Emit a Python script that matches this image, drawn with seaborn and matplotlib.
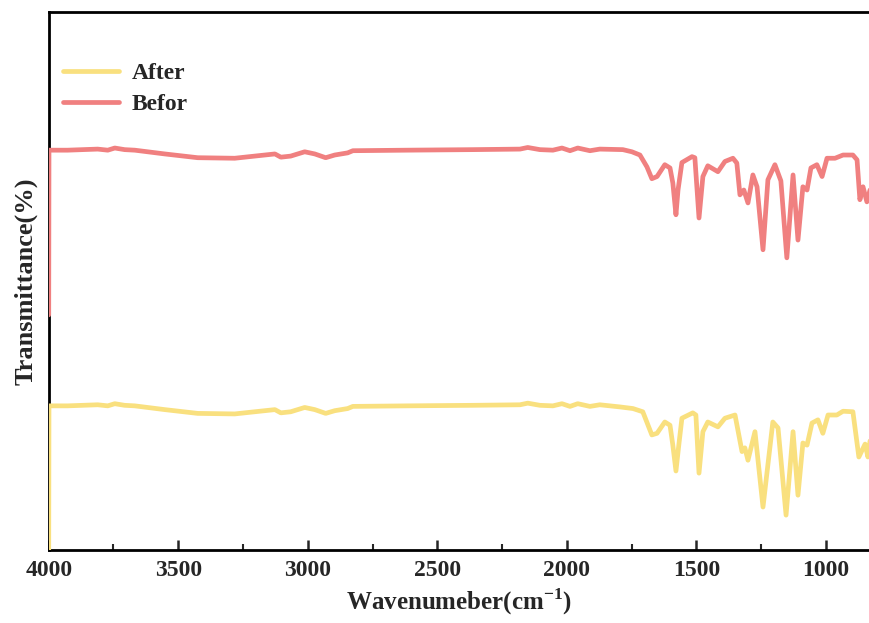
import numpy as np
import pandas as pd
import seaborn as sns
import matplotlib.pyplot as plt
from matplotlib.ticker import MultipleLocator

# ---- data ----
befor_wn = [4000, 3999, 3927, 3811, 3772, 3745, 3707, 3668, 3552, 3425, 3282, 3205, 3127, 3104,
            3066, 3012, 2973, 2931, 2896, 2846, 2826, 2618, 2363, 2181, 2151, 2104, 2054, 2019,
            1988, 1958, 1911, 1873, 1784, 1749, 1718, 1691, 1672, 1652, 1622, 1602, 1591, 1579,
            1571, 1556, 1517, 1506, 1490, 1475, 1456, 1417, 1390, 1359, 1344, 1332, 1317, 1301,
            1282, 1266, 1243, 1224, 1197, 1174, 1151, 1127, 1108, 1089, 1073, 1058, 1035, 1015,
            996, 965, 934, 896, 880, 869, 857, 842, 830, 820]
befor_t = [43.7, 74.3, 74.3, 74.5, 74.3, 74.7, 74.4, 74.3, 73.6, 72.9, 72.8, 73.2, 73.6, 73.0,
           73.2, 74.0, 73.6, 72.9, 73.4, 73.8, 74.2, 74.3, 74.4, 74.5, 74.8, 74.4, 74.3, 74.7,
           74.2, 74.7, 74.2, 74.5, 74.4, 74.0, 73.4, 71.2, 69.0, 69.4, 71.6, 71.0, 68.2, 62.3,
           66.9, 72.0, 73.1, 72.9, 61.7, 69.4, 71.4, 70.3, 72.2, 72.8, 71.9, 66.0, 66.9, 64.5,
           69.7, 67.5, 55.8, 68.8, 71.6, 68.6, 54.3, 69.7, 57.6, 67.5, 66.9, 71.0, 71.6, 69.4,
           72.8, 72.8, 73.4, 73.4, 72.5, 65.1, 67.5, 64.7, 66.9, 72.0]

after_wn = [4000, 3999, 3927, 3811, 3772, 3745, 3707, 3668, 3552, 3425, 3282, 3205, 3127, 3104,
            3066, 3012, 2973, 2931, 2896, 2846, 2826, 2618, 2363, 2181, 2151, 2104, 2054, 2019,
            1988, 1958, 1911, 1873, 1795, 1745, 1707, 1672, 1652, 1622, 1602, 1591, 1579, 1568,
            1556, 1514, 1502, 1490, 1475, 1456, 1417, 1390, 1351, 1324, 1313, 1301, 1274, 1243,
            1205, 1185, 1154, 1127, 1108, 1089, 1073, 1054, 1031, 1012, 992, 958, 934, 896, 873,
            849, 838, 820]
after_t = [0.0, 26.8, 26.8, 27.0, 26.8, 27.2, 26.9, 26.8, 26.1, 25.4, 25.3, 25.7, 26.1, 25.5,
           25.7, 26.5, 26.1, 25.4, 25.9, 26.3, 26.7, 26.8, 26.9, 27.0, 27.3, 26.9, 26.8, 27.2,
           26.7, 27.2, 26.7, 27.0, 26.6, 26.3, 25.7, 21.4, 21.7, 23.8, 23.2, 19.5, 14.7, 19.5,
           24.5, 25.5, 25.1, 14.3, 22.0, 23.8, 22.9, 24.5, 25.1, 18.3, 19.0, 16.7, 22.0, 8.0,
           23.8, 22.7, 6.5, 22.0, 10.2, 19.9, 19.5, 23.6, 24.2, 21.7, 25.1, 25.1, 25.8, 25.7,
           17.3, 19.7, 17.3, 24.0]

series_names = ["After", "Befor"]
xticks = [4000, 3500, 3000, 2500, 2000, 1500, 1000]

df = pd.concat([
    pd.DataFrame({"wn": after_wn, "T": after_t, "series": "After"}),
    pd.DataFrame({"wn": befor_wn, "T": befor_t, "series": "Befor"}),
], ignore_index=True)

sns.set_style("white")
plt.rcParams["font.family"] = ["Liberation Serif", "DejaVu Serif"]
plt.rcParams["font.weight"] = "bold"
plt.rcParams["mathtext.fontset"] = "custom"
plt.rcParams["mathtext.rm"] = "Liberation Serif:bold"
plt.rcParams["mathtext.bf"] = "Liberation Serif:bold"

fig = plt.figure(figsize=(8.7, 6.23), dpi=100)
ax = fig.add_axes([0.056, 0.117, 0.944, 0.864])

palette = {"After": "#F9E07F", "Befor": "#F08080"}
sns.lineplot(data=df, x="wn", y="T", hue="series", hue_order=series_names,
             palette=palette, sort=False, estimator=None, linewidth=3.4, ax=ax,
             zorder=3)

ax.set_xlim(4000, 830)
ax.set_ylim(0, 100)
ax.set_xticks(xticks)
ax.xaxis.set_minor_locator(MultipleLocator(250))
ax.tick_params(axis="x", which="major", direction="in", length=7, width=1.8,
               labelsize=17, pad=7, bottom=True)
ax.tick_params(axis="x", which="minor", direction="in", length=4, width=1.5, bottom=True)
ax.set_yticks([])
for lab in ax.get_xticklabels():
    lab.set_fontweight("bold")

for side in ["left", "bottom", "top"]:
    ax.spines[side].set_visible(True)
    ax.spines[side].set_linewidth(2.0)
    ax.spines[side].set_color("black")
ax.spines["right"].set_visible(False)

ax.set_xlabel(r"Wavenumeber(cm$^{\mathbf{-1}}$)", fontsize=18, fontweight="bold", labelpad=4)
ax.set_ylabel("Transmittance(%)", fontsize=19, fontweight="bold", labelpad=8)

leg = ax.legend(loc="upper left", bbox_to_anchor=(-0.008, 0.945), frameon=False,
                prop={"family": "Liberation Serif", "weight": "bold", "size": 17},
                handlelength=2.35, handletextpad=0.55, labelspacing=0.4)
for line in leg.get_lines():
    line.set_linewidth(3.4)

fig.savefig("out.png", dpi=100)
